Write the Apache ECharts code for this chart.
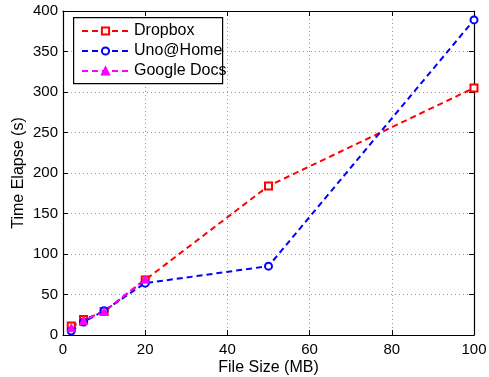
<!DOCTYPE html>
<html>
<head>
<meta charset="utf-8">
<script src="https://cdn.jsdelivr.net/npm/echarts@6/dist/echarts.min.js"></script>
<style>html,body{margin:0;padding:0;background:#fff}#c{width:489px;height:377px}</style>
</head>
<body>
<div id="c"></div>
<script>
var fileSizes = [2, 5, 10, 20, 50, 100];
var dropbox = [11, 19, 29, 68, 184, 305];
var unoHome = [5, 16, 30, 64, 85, 389];
var googleDocsSizes = [2, 5, 10, 20];
var googleDocs = [9, 18, 29, 69];
var xTicks = [0, 20, 40, 60, 80, 100];
var yTicks = [0, 50, 100, 150, 200, 250, 300, 350, 400];

function pairs(xs, ys) { return xs.map(function (x, i) { return [x, ys[i]]; }); }

var font = 'Liberation Sans, Arial, sans-serif';
var chart = echarts.init(document.getElementById('c'), null, {renderer: 'canvas'});
var axisLine = {show: true, onZero: false, lineStyle: {color: '#000', width: 1.2}};
var tick = {show: true, inside: true, length: 5, lineStyle: {color: '#000'}};
var split = {show: true, lineStyle: {color: '#999', type: [1, 3], width: 1}};

function mkSeries(name, xs, ys, color, sym, size, bw) {
  return {
    name: name, type: 'line', data: pairs(xs, ys),
    symbol: sym, symbolSize: size,
    lineStyle: {color: color, width: 2, type: [6, 4]},
    itemStyle: {color: color, borderColor: color, borderWidth: bw},
    emphasis: {disabled: true}, animation: false
  };
}

chart.setOption({
  animation: false,
  grid: {left: 63, right: 15, top: 11, bottom: 42, containLabel: false, outerBoundsMode: 'none'},
  graphic: [{
    type: 'rect', left: 73, top: 17, z: 3,
    shape: {width: 149, height: 66},
    style: {fill: '#fff', stroke: '#000', lineWidth: 1.2}
  }],
  legend: {
    orient: 'vertical', left: 74, top: 18, z: 5,
    padding: [3, 0, 3, 7], itemGap: 0, itemWidth: 47, itemHeight: 9,
    textStyle: {fontFamily: font, fontSize: 16, color: '#000', lineHeight: 20},
    data: ['Dropbox', 'Uno@Home', 'Google Docs']
  },
  xAxis: [{
    type: 'value', min: xTicks[0], max: xTicks[xTicks.length - 1], interval: 20,
    name: 'File Size (MB)', nameLocation: 'middle', nameGap: 25, nameMoveOverlap: false,
    nameTextStyle: {fontFamily: font, fontSize: 16, color: '#000'},
    axisLine: axisLine, axisTick: tick, splitLine: split,
    axisLabel: {fontFamily: font, fontSize: 15, color: '#000', margin: 7}
  }, {
    type: 'value', position: 'top', min: 0, max: 100, interval: 20,
    axisLine: axisLine, axisTick: tick, splitLine: {show: false}, axisLabel: {show: false}
  }],
  yAxis: [{
    type: 'value', min: yTicks[0], max: yTicks[yTicks.length - 1], interval: 50,
    name: 'Time Elapse (s)', nameLocation: 'middle', nameGap: 36, nameMoveOverlap: false,
    nameTextStyle: {fontFamily: font, fontSize: 16, color: '#000'},
    axisLine: axisLine, axisTick: tick, splitLine: split,
    axisLabel: {fontFamily: font, fontSize: 15, color: '#000', margin: 5}
  }, {
    type: 'value', position: 'right', min: 0, max: 400, interval: 50,
    axisLine: axisLine, axisTick: tick, splitLine: {show: false}, axisLabel: {show: false}
  }],
  series: [
    mkSeries('Dropbox', fileSizes, dropbox, '#ff0000', 'emptyRect', 7, 2.5),
    mkSeries('Uno@Home', fileSizes, unoHome, '#0000ff', 'emptyCircle', 7, 2),
    mkSeries('Google Docs', googleDocsSizes, googleDocs, '#ff00ff', 'triangle', 8, 1)
  ]
});
</script>
</body>
</html>
